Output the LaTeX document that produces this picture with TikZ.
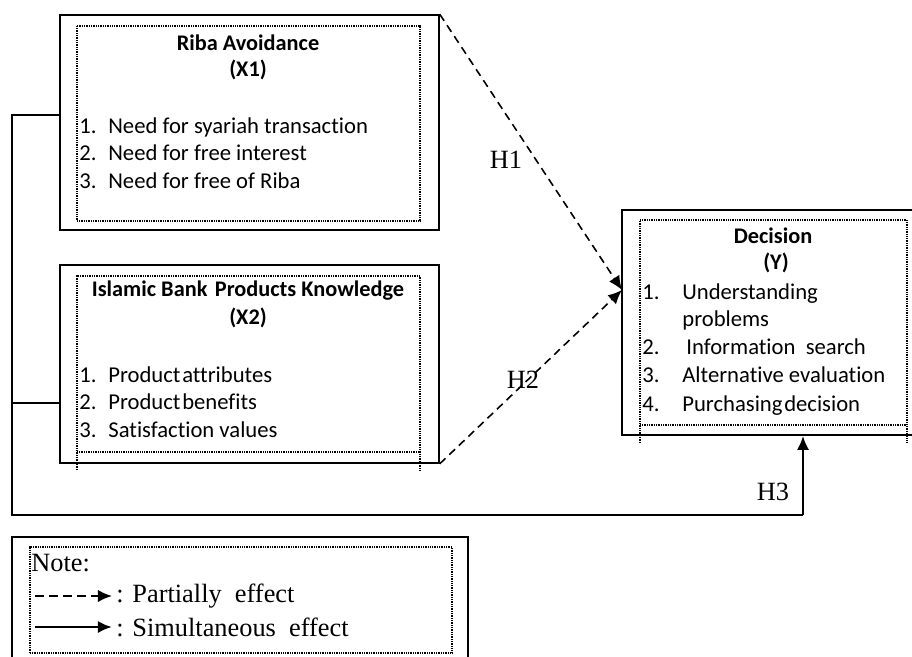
\documentclass[tikz,border=0pt]{standalone}
\usepackage{fontspec}
\setmainfont{Liberation Serif}
\newfontfamily\boxfont[Ligatures=NoCommon]{Carlito}
\usetikzlibrary{arrows.meta}

\tikzset{
  outerbox/.style={draw, line width=0.9pt, inner sep=0pt},
  innerbox/.style={line width=0.6pt, dash pattern=on 0.5pt off 0.5pt},
  boxtitle/.style={font=\boxfont\bfseries\fontsize{12.7}{15}\selectfont, inner sep=0pt},
  boxitem/.style={font=\boxfont\fontsize{12.9}{15}\selectfont, inner sep=0pt, anchor=base west},
  serif/.style={font=\fontsize{15}{18}\selectfont, inner sep=0pt},
  partial/.style={line width=0.9pt, dash pattern=on 4.5pt off 3pt, -{Latex[length=8pt,width=7pt]}},
  simult/.style={line width=1.6pt, -{Latex[length=8pt,width=7pt]}},
}

\begin{document}
\begin{tikzpicture}[x=0.02cm, y=-0.02cm]
\useasboundingbox (0,0) rectangle (912,656);

% Riba avoidance
\node [outerbox, minimum width=7.58cm, minimum height=4.3cm] (x1) at (249.5,122.5) {};
\draw [innerbox] (77,26) rectangle (420,221);
\node [boxtitle] (x1t) at (248,43) {Riba Avoidance};
\node [boxtitle] (x1s) at (248,70) {(X1)};
\node [boxitem] (x1a) at (79,133) {1.};
\node [boxitem] (x1b) at (79,160) {2.};
\node [boxitem] (x1c) at (79,188) {3.};
\node [boxitem] (x1at) at (108,133) {Need for syariah transaction};
\node [boxitem] (x1bt) at (108,160) {Need for free interest};
\node [boxitem] (x1ct) at (108,188) {Need for free of Riba};

% Islamic bank products knowledge
\node [outerbox, minimum width=7.58cm, minimum height=3.96cm] (x2) at (249.5,364) {};
\draw [innerbox] (77,470) -- (77,276) -- (420,276) -- (420,470);
\draw [innerbox, line width=1pt] (77,452) -- (420,452);
\node [boxtitle] (x2t) at (248,291) {Islamic Bank\,\,Products Knowledge};
\node [boxtitle] (x2s) at (248,318) {(X2)};
\node [boxitem] (x2a) at (79,382) {1.};
\node [boxitem] (x2b) at (79,409) {2.};
\node [boxitem] (x2c) at (79,437) {3.};
\node [boxitem] (x2at) at (108,382) {Product\kern1pt attributes};
\node [boxitem] (x2bt) at (108,409) {Product\kern1pt benefits};
\node [boxitem] (x2ct) at (108,437) {Satisfaction values};

% Decision
\node [outerbox, minimum width=5.86cm, minimum height=4.5cm] (y) at (768.5,322.5) {};
\draw [innerbox] (640,443) -- (640,220) -- (907,220) -- (907,443);
\draw [innerbox, line width=1pt] (640,425) -- (907,425);
\node [boxtitle] (yt) at (773,236) {Decision};
\node [boxtitle] (ys) at (776,263) {(Y)};
\node [boxitem] (ya) at (642,299) {1.};
\node [boxitem] (yb) at (642,354) {2.};
\node [boxitem] (yc) at (642,382) {3.};
\node [boxitem] (yd) at (642,411) {4.};
\node [boxitem] (yat) at (682,299) {Understanding};
\node [boxitem] (yat2) at (682,326) {problems};
\node [boxitem] (ybt) at (686,354) {Information\ \ search};
\node [boxitem] (yct) at (682,382) {Alternative evaluation};
\node [boxitem] (ydt) at (682,411) {Purchasing\kern1pt decision};

% hypotheses
\coordinate (ytip) at (622,290);
\draw [partial] (x1.north east) -- (ytip);
\draw [partial] (x2.south east) -- (ytip);
\node [serif] (h1) at (506,160) {H1};
\node [serif] (h2) at (523,380) {H2};

\coordinate (c1) at (12,115);
\coordinate (c2) at (12,403);
\coordinate (c3) at (12,515);
\coordinate (h3c) at (803,515);
\draw [line width=1pt] (x1.west |- c1) -- (c1) -- (c3) -- (h3c);
\draw [line width=1pt] (x2.west |- c2) -- (c2);
\draw [simult] (h3c) -- (h3c |- y.south);
\node [serif] (h3) at (773,492) {H3};

% note
\node [outerbox, minimum width=9.12cm, minimum height=2.46cm] (note) at (240,598.5) {};
\draw [innerbox] (30,653) -- (30,547) -- (452,547) -- (452,653);
\draw [innerbox, line width=1pt] (30,653) -- (452,653);
\node [serif, anchor=west] (notet) at (31,563) {Note:};
\coordinate (pa) at (35,596);
\coordinate (pb) at (112,596);
\coordinate (sa) at (35,627);
\coordinate (sb) at (112,627);
\draw [partial, line width=1pt, dash pattern=on 5pt off 3pt] (pa) -- (pb);
\draw [simult] (sa) -- (sb);
\node [serif, anchor=west] (pt) at (116,596) {: Partially\ \ effect};
\node [serif, anchor=west] (st) at (116,627) {: Simultaneous\ \ effect};

\end{tikzpicture}
\end{document}
